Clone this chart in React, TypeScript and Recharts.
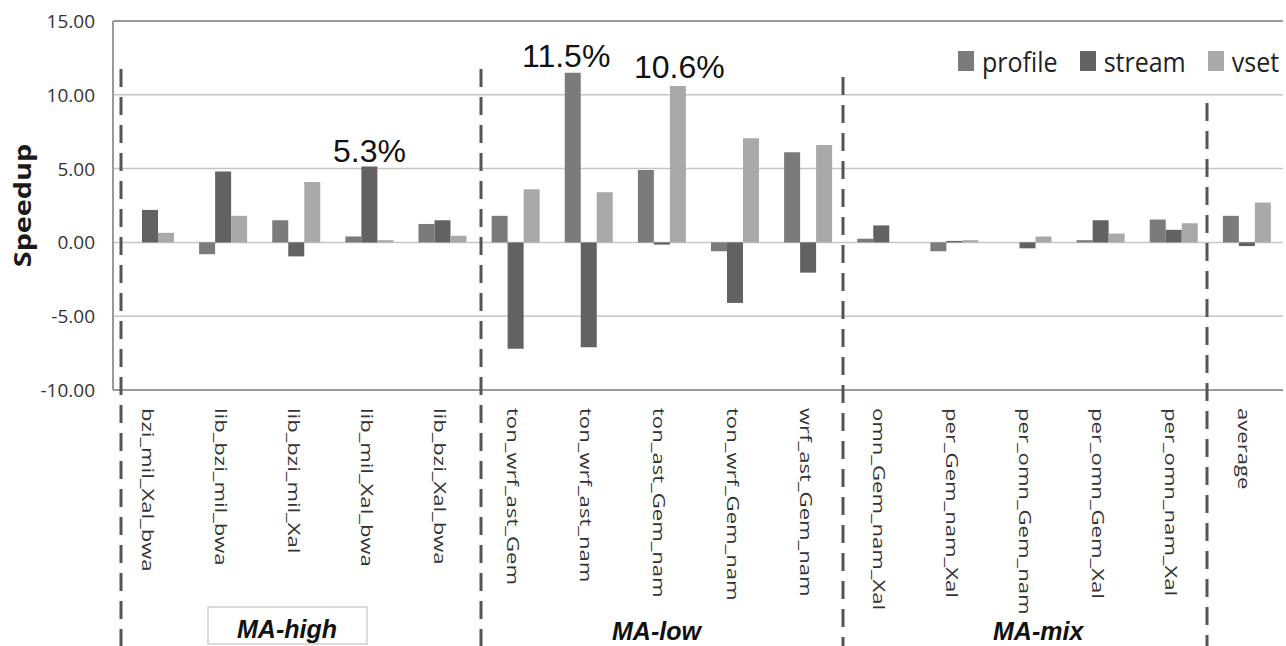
import React from 'react';
import { BarChart, Bar, XAxis, YAxis, CartesianGrid, Legend, ReferenceLine } from 'recharts';

const categories = [
  'bzi_mil_Xal_bwa', 'lib_bzi_mil_bwa', 'lib_bzi_mil_Xal', 'lib_mil_Xal_bwa', 'lib_bzi_Xal_bwa',
  'ton_wrf_ast_Gem', 'ton_wrf_ast_nam', 'ton_ast_Gem_nam', 'ton_wrf_Gem_nam', 'wrf_ast_Gem_nam',
  'omn_Gem_nam_Xal', 'per_Gem_nam_Xal', 'per_omn_Gem_nam', 'per_omn_Gem_Xal', 'per_omn_nam_Xal',
  'average',
];

const profile = [0, -0.8, 1.5, 0.4, 1.25, 1.8, 11.5, 4.9, -0.6, 6.1, 0.25, -0.6, 0, 0.15, 1.55, 1.8];
const stream = [2.2, 4.8, -0.95, 5.15, 1.5, -7.2, -7.1, -0.15, -4.1, -2.05, 1.15, 0.1, -0.4, 1.5, 0.85, -0.25];
const vset = [0.65, 1.8, 4.1, 0.15, 0.45, 3.6, 3.4, 10.6, 7.05, 6.6, 0, 0.15, 0.4, 0.6, 1.3, 2.7];

const yTicks = [-10, -5, 0, 5, 10, 15];

const series = [
  { key: 'profile', color: '#7b7b7b' },
  { key: 'stream', color: '#626262' },
  { key: 'vset', color: '#a9a9a9' },
];

const data = categories.map((name, i) => ({
  name,
  profile: profile[i],
  stream: stream[i],
  vset: vset[i],
}));

// labels in the source are stretched along their length, hence the scale
const CategoryTick = (props: any) => {
  const { x, payload } = props;
  return (
    <g transform={`translate(${x - 8},408)`}>
      <text
        transform="rotate(90) scale(1.3,1)"
        fontFamily="Open Sans"
        fontSize={17}
        fill="#333"
        textAnchor="start"
      >
        {payload.value}
      </text>
    </g>
  );
};

const ValueTick = (props: any) => {
  const { y, payload } = props;
  return (
    <text x={95} y={y} dy={7} textAnchor="end" fontFamily="Open Sans" fontSize={19} fill="#333">
      {Number(payload.value).toFixed(2)}
    </text>
  );
};

const LegendBox = (props: any) => {
  const items = props.payload || [];
  return (
    <div style={{ display: 'flex', alignItems: 'center', fontFamily: 'Open Sans', fontSize: 25, color: '#222' }}>
      {items.map((it: any) => (
        <div key={it.value} style={{ display: 'flex', alignItems: 'center', marginRight: 22 }}>
          <div style={{ width: 16, height: 20, background: it.color, marginRight: 8 }} />
          <span style={{ lineHeight: '30px', display: 'inline-block', transform: 'scaleY(1.12)' }}>{it.value}</span>
        </div>
      ))}
    </div>
  );
};

const separators = [
  { x: 121, top: 69 },
  { x: 481, top: 69 },
  { x: 843, top: 77 },
  { x: 1207, top: 103 },
];

export default function App() {
  return (
    <div style={{ position: 'absolute', left: 0, top: 0, width: 1286, height: 646, background: '#fff' }}>
      <BarChart
        width={1286}
        height={646}
        data={data}
        margin={{ top: 21, right: 3, left: 13, bottom: 0 }}
        barGap={0}
      >
        <CartesianGrid vertical={false} stroke="#c6c6c6" strokeWidth={1.5} />
        <XAxis
          dataKey="name"
          interval={0}
          height={256}
          tickLine={false}
          axisLine={{ stroke: '#9a9a9a', strokeWidth: 2 }}
          tick={CategoryTick}
        />
        <YAxis
          domain={[-10, 15]}
          ticks={yTicks}
          interval={0}
          width={100}
          tickLine={false}
          axisLine={{ stroke: '#9a9a9a', strokeWidth: 2 }}
          tick={ValueTick}
        />
        <YAxis
          yAxisId="right"
          orientation="right"
          domain={[-10, 15]}
          width={0}
          tick={false}
          tickLine={false}
          axisLine={{ stroke: '#9a9a9a', strokeWidth: 2 }}
        />
        <ReferenceLine y={15} stroke="#9a9a9a" strokeWidth={2} />
        <Legend
          layout="horizontal"
          verticalAlign="middle"
          align="center"
          content={LegendBox}
          wrapperStyle={{ top: 46, left: 958, width: 330, height: 30 }}
        />
        {series.map((s) => (
          <Bar key={s.key} dataKey={s.key} name={s.key} fill={s.color} barSize={16} isAnimationActive={false} />
        ))}
      </BarChart>
      <svg
        width={1286}
        height={646}
        style={{ position: 'absolute', left: 0, top: 0, pointerEvents: 'none' }}
      >
        {separators.map((s) => (
          <line
            key={s.x}
            x1={s.x}
            x2={s.x}
            y1={s.top}
            y2={646}
            stroke="#555"
            strokeWidth={3}
            strokeDasharray="18 10"
          />
        ))}
        <text
          transform="translate(31,205.5) rotate(-90) scale(1.2,1)"
          textAnchor="middle"
          fontFamily="Open Sans"
          fontWeight="bold"
          fontSize={24}
          fill="#1a1a1a"
        >
          Speedup
        </text>
        <g fontFamily="Liberation Sans, Arial" fontSize={32} fill="#111">
          <text x={333} y={162}>5.3%</text>
          <text x={522} y={67}>11.5%</text>
          <text x={634} y={78}>10.6%</text>
        </g>
        <rect x={208} y={607} width={159} height={37} fill="none" stroke="#cfcfcf" strokeWidth={1.5} />
        <g fontFamily="Liberation Sans, Arial" fontSize={25} fontWeight="bold" fontStyle="italic" fill="#111">
          <text x={237} y={638}>MA-high</text>
          <text x={612} y={640}>MA-low</text>
          <text x={993} y={640}>MA-mix</text>
        </g>
      </svg>
    </div>
  );
}
